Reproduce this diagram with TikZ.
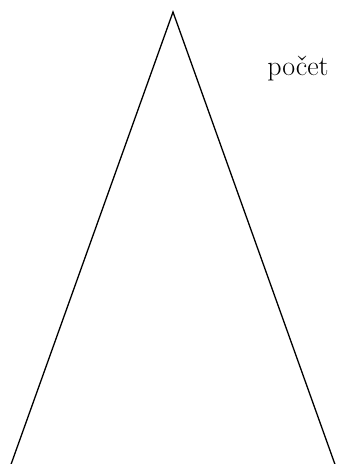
\documentclass[tikz,border=0pt]{standalone}
\usepackage{tikz}
\usetikzlibrary{positioning}
\begin{document}
\begin{tikzpicture}[x=1pt,y=-1pt]
\useasboundingbox (0,0) rectangle (338,464);
\coordinate (apex) at (173,12);
\coordinate (left) at (9,470);
\coordinate (right) at (337,470);
\node[font=\fontsize{28}{32}\selectfont, inner sep=0pt] (label) at (298,69) {počet};
\draw[line width=1.3pt] (left) -- (apex) -- (right);
\end{tikzpicture}
\end{document}
